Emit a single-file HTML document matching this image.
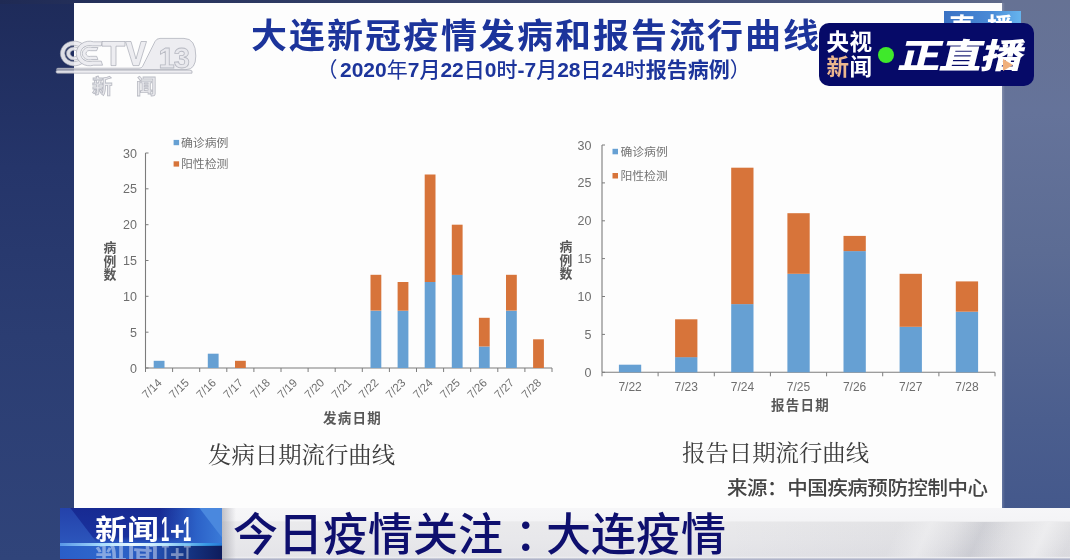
<!DOCTYPE html>
<html><head><meta charset="utf-8">
<style>
*{margin:0;padding:0;box-sizing:border-box}
html,body{width:1070px;height:560px;overflow:hidden}
#root{position:absolute;left:0;top:0;width:1070px;height:560px;overflow:hidden;will-change:transform}
body{position:relative;background:linear-gradient(180deg,#1e2b5a 0%,#25356a 30%,#2b3d72 60%,#30447a 100%);font-family:"Liberation Sans","Noto Sans CJK SC",sans-serif}
.abs{position:absolute;white-space:nowrap}
#topstrip{left:0;top:0;width:1070px;height:4px;background:linear-gradient(90deg,#1f2a54 0%,#28345e 15%,#3a466e 50%,#48547a 75%,#5a6586 90%,#66718f 100%)}
#rightbg{left:1002px;top:0;width:68px;height:560px;background:linear-gradient(180deg,#667294 0%,#65739a 20%,#5c6c94 45%,#4b5e8e 75%,#40558a 100%)}
#redge{left:1002px;top:3px;width:3px;height:505px;background:linear-gradient(90deg,rgba(255,255,255,0.18),rgba(255,255,255,0))}
#panel{left:74px;top:3px;width:928px;height:510px;background:#fdfdfd}
#title{left:251px;top:12.2px;font-size:36px;font-weight:700;color:#1c349b;letter-spacing:2px;line-height:48px;transform:scaleY(0.96);transform-origin:0 38.3px}
#sub{left:319px;top:56px;font-size:21px;font-weight:700;color:#1c349b;line-height:28px}
#sub i{font-style:normal;font-weight:400}
#sub i.m{font-weight:500}
.cap{font-family:"Liberation Serif","Noto Serif CJK SC",serif;font-size:23.4px;color:#3c3c3c;line-height:30px;transform:scaleY(0.96);transform-origin:0 0}
#cap1{left:208px;top:440.6px}
#cap2{left:682px;top:438.5px}
#src{left:727px;top:474.6px;font-size:20.5px;color:#444;font-weight:500;line-height:28px;letter-spacing:-0.45px;transform:scaleY(0.96);transform-origin:0 0}

#tab{left:944px;top:11px;width:77px;height:14px;background:linear-gradient(90deg,#3a72c4,#4a8ad6 60%,#66b4ee);overflow:hidden}
#tab span{position:absolute;left:5px;top:-0.5px;font-size:26px;font-weight:700;color:#fff;letter-spacing:12px;line-height:34px}
#badge{left:819px;top:22.5px;width:215px;height:63.5px;background:#060a68;border-radius:10px}
.bt{position:absolute;font-size:22.5px;font-weight:700;line-height:24px;color:#fff;white-space:nowrap;letter-spacing:0.5px}
#dot{position:absolute;left:59px;top:24px;width:16px;height:16px;border-radius:50%;background:#3fe92b}
#zzb{position:absolute;left:86px;top:13.5px;font-size:34px;font-weight:900;color:#fff;line-height:40px;transform:skewX(-14deg) scaleX(1.25);transform-origin:0 0;letter-spacing:-1px}
#tri{position:absolute;left:184px;top:36px;width:0;height:0;border-top:6px solid transparent;border-bottom:6px solid transparent;border-left:10px solid #f0b07c}
#banner{left:0;top:507.5px;width:1070px;height:52.5px}
#bgray{position:absolute;left:222px;top:0;width:848px;height:52.5px;background:linear-gradient(180deg,#f6f6f8 0px,#f4f4f6 12.5px,#eaeaec 14px,#e8e8eb 30px,#e4e4e8 48px,#ececef 49.5px,#b4b8cc 51px,#a8acc2 52.5px)}
#streak{position:absolute;left:700px;top:14px;width:370px;height:35px;background:linear-gradient(90deg,rgba(20,20,40,0) 0%,rgba(20,20,40,0.04) 60%,rgba(20,20,40,0.05) 100%)}
#streak2{position:absolute;left:820px;top:14px;width:250px;height:35px;background:linear-gradient(115deg,rgba(255,255,255,0) 0%,rgba(255,255,255,0) 30%,rgba(255,255,255,0.35) 42%,rgba(255,255,255,0) 52%,rgba(130,134,150,0.18) 62%,rgba(255,255,255,0) 72%,rgba(255,255,255,0.45) 86%,rgba(255,255,255,0) 97%)}
#logo11{position:absolute;left:60px;top:0;width:162px;height:52.5px;overflow:hidden;background:linear-gradient(180deg,#172a92 0%,#1a329e 55%,#2a5cc4 68%,#2456bc 85%,#1b3f9c 100%)}
#logo11 .tl{position:absolute;left:0;top:0;width:40px;height:36px;background:linear-gradient(180deg,#2442aa,#2c56bc);clip-path:polygon(0 0,10px 0,37.5px 36px,0 36px)}
#logo11 .tr{position:absolute;left:100px;top:0;width:62px;height:35px;background:linear-gradient(90deg,rgba(40,80,190,0) 0%,#2c62c8 60%,#3a7ad8 100%)}
#logo11 .tr2{position:absolute;left:139px;top:0;width:23px;height:35px;background:#4a88de;clip-path:polygon(0 0,23px 0,23px 30px)}
#logo11 .bl{position:absolute;left:0;top:37px;width:162px;height:15.5px;background:linear-gradient(90deg,#2a5ec8 0%,#2e68cc 30%,#2756bc 55%,#173a8c 75%,#0e1c5c 100%)}
#logo11 .glow{position:absolute;left:0;top:35px;width:162px;height:3.5px;background:linear-gradient(90deg,rgba(120,190,255,0.6) 0%,rgba(170,225,255,0.95) 25%,rgba(235,250,255,1) 45%,rgba(190,235,255,0.95) 65%,rgba(60,170,240,0.8) 90%,rgba(40,140,230,0.6) 100%);filter:blur(0.6px)}
#logo11 .t,#logo11 .r{position:absolute;left:0;top:0;width:162px;height:52.5px}
#logo11 .r{transform:scaleY(-1);transform-origin:0 34.8px;opacity:0.42;filter:blur(0.6px)}
#logo11 .t span,#logo11 .r span{position:absolute;color:#fff;font-weight:700;line-height:30px;white-space:nowrap;transform-origin:0 0}
#logo11 .c{font-size:28px;letter-spacing:0px;transform:scale(1.14,1.0)}
#logo11 .d{font-family:"Liberation Sans",sans-serif;font-size:35px;transform:scaleX(0.42)}
#logo11 .p{font-family:"Liberation Sans",sans-serif;font-size:26px;transform:scaleX(0.95)}
#bred{position:absolute;left:0;top:51px;width:162px;height:1.5px;background:#6a2040}
#bshadow{position:absolute;left:222px;top:0;width:14px;height:52.5px;background:linear-gradient(90deg,rgba(150,150,160,0.55),rgba(240,240,244,0))}
.btx{position:absolute;top:0.5px;font-size:45px;font-weight:500;color:#0e0f6e;line-height:56px;white-space:nowrap}
</style></head>
<body>
<div id="root">
<div id="topstrip" class="abs"></div>
<div id="rightbg" class="abs"></div>
<div id="panel" class="abs"></div><div id="redge" class="abs"></div>
<svg class="abs" style="left:0;top:0" width="220" height="110" viewBox="0 0 220 110">
<g fill="rgba(236,236,240,0.93)" stroke="rgba(160,162,174,0.7)" stroke-width="0.9">
<path d="M56.5,69.6 L186,69.6 Q195.8,69.6 195.8,56 Q195.8,38.4 184,38.4 L160,38.4 Q156.5,38.4 155,41.5 L142.5,66.5 Q141.5,68.2 139,68.2 L58,68.2 Q56.5,68.2 56.5,69.6 Z"/>
<path d="M57.5,70.2 L190,70.2 Q193,70.2 192,73.2 L57.5,73.2 Q56,73.2 56,71.7 Q56,70.2 57.5,70.2 Z"/>
<path d="M85.14,46.39 A13.6,12.4 0 1 0 85.14,60.61 L81.62,58.20 A9.3,8.2 0 1 1 81.62,48.80 Z"/>
<path d="M80.23,49.71 A7.6,6.6 0 1 0 80.23,57.29 L77.11,55.39 A3.8,3.3 0 1 1 77.11,51.61 Z"/>
<path d="M102.58,41.80 L93.58,41.80 A13.2,12.3 0 1 0 93.58,65.20 L102.58,65.20 L101.25,61.11 L92.25,61.11 A8.9,8.0 0 1 1 92.25,45.89 L101.25,45.89 Z"/>
<path d="M97.96,47.49 L91.96,47.49 A7.2,6.4 0 1 0 91.96,59.51 L97.96,59.51 L96.70,56.32 L90.70,56.32 A3.5,3.0 0 1 1 90.70,50.68 L96.70,50.68 Z"/>
<path d="M102,41.5 L125,41.5 L125,46.2 L116,46.2 L116,65.6 L111,65.6 L111,46.2 L102,46.2 Z"/>
<path d="M125.5,41.5 L131,41.5 L136,59 L141,41.5 L146.5,41.5 L139,65.6 L133,65.6 Z"/>
</g>
<g font-family="Liberation Sans, Noto Sans CJK SC, sans-serif" font-weight="700" fill="rgba(232,232,236,0.95)" stroke="rgba(160,162,174,0.7)" stroke-width="0.8">
<text x="158.5" y="67.5" font-size="29" letter-spacing="-1">13</text>
<text x="92" y="94" font-size="20.5" font-weight="700">新</text>
<text x="136" y="94" font-size="20.5" font-weight="700">闻</text>
</g>
</svg>
<div id="title" class="abs">大连新冠疫情发病和报告流行曲线</div>
<div id="sub" class="abs"><i style="position:relative;left:-2.5px">（</i>2020<i>年</i>7<i class="m">月</i>22<i class="m">日</i>0<i class="m">时</i>-7<i class="m">月</i>28<i class="m">日</i>24<i class="m">时</i>报告病例<i>）</i></div>
<div id="cap1" class="abs cap">发病日期流行曲线</div>
<div id="cap2" class="abs cap">报告日期流行曲线</div>
<div id="src" class="abs">来源：中国疾病预防控制中心</div>
<!-- CHARTS -->
<svg class="abs" style="left:0;top:0" width="1070" height="560" viewBox="0 0 1070 560" font-family="Liberation Sans, Noto Sans CJK SC, sans-serif">
<line x1="145.5" y1="153.0" x2="145.5" y2="368.0" stroke="#7c7c7c" stroke-width="1.1"/>
<line x1="145.5" y1="368.0" x2="552.0" y2="368.0" stroke="#7c7c7c" stroke-width="1.1"/>
<line x1="145.5" y1="368.0" x2="148.5" y2="368.0" stroke="#7c7c7c" stroke-width="1"/>
<text x="137.0" y="372.5" text-anchor="end" font-size="12.5" fill="#6e6e6e">0</text>
<line x1="145.5" y1="332.2" x2="148.5" y2="332.2" stroke="#7c7c7c" stroke-width="1"/>
<text x="137.0" y="336.7" text-anchor="end" font-size="12.5" fill="#6e6e6e">5</text>
<line x1="145.5" y1="296.3" x2="148.5" y2="296.3" stroke="#7c7c7c" stroke-width="1"/>
<text x="137.0" y="300.8" text-anchor="end" font-size="12.5" fill="#6e6e6e">10</text>
<line x1="145.5" y1="260.5" x2="148.5" y2="260.5" stroke="#7c7c7c" stroke-width="1"/>
<text x="137.0" y="265.0" text-anchor="end" font-size="12.5" fill="#6e6e6e">15</text>
<line x1="145.5" y1="224.7" x2="148.5" y2="224.7" stroke="#7c7c7c" stroke-width="1"/>
<text x="137.0" y="229.2" text-anchor="end" font-size="12.5" fill="#6e6e6e">20</text>
<line x1="145.5" y1="188.8" x2="148.5" y2="188.8" stroke="#7c7c7c" stroke-width="1"/>
<text x="137.0" y="193.3" text-anchor="end" font-size="12.5" fill="#6e6e6e">25</text>
<line x1="145.5" y1="153.0" x2="148.5" y2="153.0" stroke="#7c7c7c" stroke-width="1"/>
<text x="137.0" y="157.5" text-anchor="end" font-size="12.5" fill="#6e6e6e">30</text>
<line x1="145.5" y1="368.0" x2="145.5" y2="372.0" stroke="#7c7c7c" stroke-width="1"/>
<line x1="172.6" y1="368.0" x2="172.6" y2="372.0" stroke="#7c7c7c" stroke-width="1"/>
<line x1="199.7" y1="368.0" x2="199.7" y2="372.0" stroke="#7c7c7c" stroke-width="1"/>
<line x1="226.8" y1="368.0" x2="226.8" y2="372.0" stroke="#7c7c7c" stroke-width="1"/>
<line x1="253.9" y1="368.0" x2="253.9" y2="372.0" stroke="#7c7c7c" stroke-width="1"/>
<line x1="281.0" y1="368.0" x2="281.0" y2="372.0" stroke="#7c7c7c" stroke-width="1"/>
<line x1="308.1" y1="368.0" x2="308.1" y2="372.0" stroke="#7c7c7c" stroke-width="1"/>
<line x1="335.2" y1="368.0" x2="335.2" y2="372.0" stroke="#7c7c7c" stroke-width="1"/>
<line x1="362.3" y1="368.0" x2="362.3" y2="372.0" stroke="#7c7c7c" stroke-width="1"/>
<line x1="389.4" y1="368.0" x2="389.4" y2="372.0" stroke="#7c7c7c" stroke-width="1"/>
<line x1="416.5" y1="368.0" x2="416.5" y2="372.0" stroke="#7c7c7c" stroke-width="1"/>
<line x1="443.6" y1="368.0" x2="443.6" y2="372.0" stroke="#7c7c7c" stroke-width="1"/>
<line x1="470.7" y1="368.0" x2="470.7" y2="372.0" stroke="#7c7c7c" stroke-width="1"/>
<line x1="497.8" y1="368.0" x2="497.8" y2="372.0" stroke="#7c7c7c" stroke-width="1"/>
<line x1="524.9" y1="368.0" x2="524.9" y2="372.0" stroke="#7c7c7c" stroke-width="1"/>
<line x1="552.0" y1="368.0" x2="552.0" y2="372.0" stroke="#7c7c7c" stroke-width="1"/>
<rect x="153.7" y="360.8" width="10.8" height="7.2" fill="#66a0d3"/>
<text x="162.6" y="383.5" text-anchor="end" font-size="11.5" fill="#6e6e6e" transform="rotate(-45 162.6 383.5)">7/14</text>
<text x="189.7" y="383.5" text-anchor="end" font-size="11.5" fill="#6e6e6e" transform="rotate(-45 189.7 383.5)">7/15</text>
<rect x="207.8" y="353.7" width="10.8" height="14.3" fill="#66a0d3"/>
<text x="216.8" y="383.5" text-anchor="end" font-size="11.5" fill="#6e6e6e" transform="rotate(-45 216.8 383.5)">7/16</text>
<rect x="235.0" y="360.8" width="10.8" height="7.2" fill="#d7743a"/>
<text x="243.9" y="383.5" text-anchor="end" font-size="11.5" fill="#6e6e6e" transform="rotate(-45 243.9 383.5)">7/17</text>
<text x="270.9" y="383.5" text-anchor="end" font-size="11.5" fill="#6e6e6e" transform="rotate(-45 270.9 383.5)">7/18</text>
<text x="298.1" y="383.5" text-anchor="end" font-size="11.5" fill="#6e6e6e" transform="rotate(-45 298.1 383.5)">7/19</text>
<text x="325.1" y="383.5" text-anchor="end" font-size="11.5" fill="#6e6e6e" transform="rotate(-45 325.1 383.5)">7/20</text>
<text x="352.2" y="383.5" text-anchor="end" font-size="11.5" fill="#6e6e6e" transform="rotate(-45 352.2 383.5)">7/21</text>
<rect x="370.5" y="310.7" width="10.8" height="57.3" fill="#66a0d3"/>
<rect x="370.5" y="274.8" width="10.8" height="35.8" fill="#d7743a"/>
<text x="379.4" y="383.5" text-anchor="end" font-size="11.5" fill="#6e6e6e" transform="rotate(-45 379.4 383.5)">7/22</text>
<rect x="397.6" y="310.7" width="10.8" height="57.3" fill="#66a0d3"/>
<rect x="397.6" y="282.0" width="10.8" height="28.7" fill="#d7743a"/>
<text x="406.4" y="383.5" text-anchor="end" font-size="11.5" fill="#6e6e6e" transform="rotate(-45 406.4 383.5)">7/23</text>
<rect x="424.7" y="282.0" width="10.8" height="86.0" fill="#66a0d3"/>
<rect x="424.7" y="174.5" width="10.8" height="107.5" fill="#d7743a"/>
<text x="433.6" y="383.5" text-anchor="end" font-size="11.5" fill="#6e6e6e" transform="rotate(-45 433.6 383.5)">7/24</text>
<rect x="451.8" y="274.8" width="10.8" height="93.2" fill="#66a0d3"/>
<rect x="451.8" y="224.7" width="10.8" height="50.2" fill="#d7743a"/>
<text x="460.7" y="383.5" text-anchor="end" font-size="11.5" fill="#6e6e6e" transform="rotate(-45 460.7 383.5)">7/25</text>
<rect x="478.9" y="346.5" width="10.8" height="21.5" fill="#66a0d3"/>
<rect x="478.9" y="317.8" width="10.8" height="28.7" fill="#d7743a"/>
<text x="487.8" y="383.5" text-anchor="end" font-size="11.5" fill="#6e6e6e" transform="rotate(-45 487.8 383.5)">7/26</text>
<rect x="506.0" y="310.7" width="10.8" height="57.3" fill="#66a0d3"/>
<rect x="506.0" y="274.8" width="10.8" height="35.8" fill="#d7743a"/>
<text x="514.9" y="383.5" text-anchor="end" font-size="11.5" fill="#6e6e6e" transform="rotate(-45 514.9 383.5)">7/27</text>
<rect x="533.1" y="339.3" width="10.8" height="28.7" fill="#d7743a"/>
<text x="542.0" y="383.5" text-anchor="end" font-size="11.5" fill="#6e6e6e" transform="rotate(-45 542.0 383.5)">7/28</text>
<line x1="602.0" y1="145.0" x2="602.0" y2="372.3" stroke="#7c7c7c" stroke-width="1.1"/>
<line x1="602.0" y1="372.3" x2="995.0" y2="372.3" stroke="#7c7c7c" stroke-width="1.1"/>
<line x1="602.0" y1="372.3" x2="605.0" y2="372.3" stroke="#7c7c7c" stroke-width="1"/>
<text x="591.5" y="376.8" text-anchor="end" font-size="12.5" fill="#6e6e6e">0</text>
<line x1="602.0" y1="334.4" x2="605.0" y2="334.4" stroke="#7c7c7c" stroke-width="1"/>
<text x="591.5" y="338.9" text-anchor="end" font-size="12.5" fill="#6e6e6e">5</text>
<line x1="602.0" y1="296.5" x2="605.0" y2="296.5" stroke="#7c7c7c" stroke-width="1"/>
<text x="591.5" y="301.0" text-anchor="end" font-size="12.5" fill="#6e6e6e">10</text>
<line x1="602.0" y1="258.6" x2="605.0" y2="258.6" stroke="#7c7c7c" stroke-width="1"/>
<text x="591.5" y="263.1" text-anchor="end" font-size="12.5" fill="#6e6e6e">15</text>
<line x1="602.0" y1="220.8" x2="605.0" y2="220.8" stroke="#7c7c7c" stroke-width="1"/>
<text x="591.5" y="225.3" text-anchor="end" font-size="12.5" fill="#6e6e6e">20</text>
<line x1="602.0" y1="182.9" x2="605.0" y2="182.9" stroke="#7c7c7c" stroke-width="1"/>
<text x="591.5" y="187.4" text-anchor="end" font-size="12.5" fill="#6e6e6e">25</text>
<line x1="602.0" y1="145.0" x2="605.0" y2="145.0" stroke="#7c7c7c" stroke-width="1"/>
<text x="591.5" y="149.5" text-anchor="end" font-size="12.5" fill="#6e6e6e">30</text>
<line x1="602.0" y1="372.3" x2="602.0" y2="376.3" stroke="#7c7c7c" stroke-width="1"/>
<line x1="658.1" y1="372.3" x2="658.1" y2="376.3" stroke="#7c7c7c" stroke-width="1"/>
<line x1="714.3" y1="372.3" x2="714.3" y2="376.3" stroke="#7c7c7c" stroke-width="1"/>
<line x1="770.4" y1="372.3" x2="770.4" y2="376.3" stroke="#7c7c7c" stroke-width="1"/>
<line x1="826.6" y1="372.3" x2="826.6" y2="376.3" stroke="#7c7c7c" stroke-width="1"/>
<line x1="882.7" y1="372.3" x2="882.7" y2="376.3" stroke="#7c7c7c" stroke-width="1"/>
<line x1="938.9" y1="372.3" x2="938.9" y2="376.3" stroke="#7c7c7c" stroke-width="1"/>
<line x1="995.0" y1="372.3" x2="995.0" y2="376.3" stroke="#7c7c7c" stroke-width="1"/>
<rect x="618.9" y="364.7" width="22.3" height="7.6" fill="#66a0d3"/>
<text x="630.1" y="391.3" text-anchor="middle" font-size="12" fill="#6e6e6e">7/22</text>
<rect x="675.1" y="357.1" width="22.3" height="15.2" fill="#66a0d3"/>
<rect x="675.1" y="319.3" width="22.3" height="37.9" fill="#d7743a"/>
<text x="686.2" y="391.3" text-anchor="middle" font-size="12" fill="#6e6e6e">7/23</text>
<rect x="731.2" y="304.1" width="22.3" height="68.2" fill="#66a0d3"/>
<rect x="731.2" y="167.7" width="22.3" height="136.4" fill="#d7743a"/>
<text x="742.4" y="391.3" text-anchor="middle" font-size="12" fill="#6e6e6e">7/24</text>
<rect x="787.4" y="273.8" width="22.3" height="98.5" fill="#66a0d3"/>
<rect x="787.4" y="213.2" width="22.3" height="60.6" fill="#d7743a"/>
<text x="798.5" y="391.3" text-anchor="middle" font-size="12" fill="#6e6e6e">7/25</text>
<rect x="843.5" y="251.1" width="22.3" height="121.2" fill="#66a0d3"/>
<rect x="843.5" y="235.9" width="22.3" height="15.2" fill="#d7743a"/>
<text x="854.6" y="391.3" text-anchor="middle" font-size="12" fill="#6e6e6e">7/26</text>
<rect x="899.6" y="326.8" width="22.3" height="45.5" fill="#66a0d3"/>
<rect x="899.6" y="273.8" width="22.3" height="53.0" fill="#d7743a"/>
<text x="910.8" y="391.3" text-anchor="middle" font-size="12" fill="#6e6e6e">7/27</text>
<rect x="955.8" y="311.7" width="22.3" height="60.6" fill="#66a0d3"/>
<rect x="955.8" y="281.4" width="22.3" height="30.3" fill="#d7743a"/>
<text x="966.9" y="391.3" text-anchor="middle" font-size="12" fill="#6e6e6e">7/28</text>
<rect x="173.6" y="139.9" width="5.5" height="5.3" fill="#66a0d3"/>
<text x="180.9" y="146.9" font-size="11.9" fill="#737373">确诊病例</text>
<rect x="173.6" y="161.3" width="5.5" height="5.3" fill="#d7743a"/>
<text x="180.9" y="168.4" font-size="11.9" fill="#737373">阳性检测</text>
<rect x="612.5" y="148.8" width="5.5" height="5.5" fill="#66a0d3"/>
<text x="620.5" y="155.6" font-size="11.8" fill="#737373">确诊病例</text>
<rect x="612.5" y="173" width="5.5" height="5.5" fill="#d7743a"/>
<text x="620.5" y="179.9" font-size="11.8" fill="#737373">阳性检测</text>
<text x="110" y="252.0" text-anchor="middle" font-size="12.8" font-weight="700" fill="#585858">病</text>
<text x="110" y="265.6" text-anchor="middle" font-size="12.8" font-weight="700" fill="#585858">例</text>
<text x="110" y="279.2" text-anchor="middle" font-size="12.8" font-weight="700" fill="#585858">数</text>
<text x="566" y="251.0" text-anchor="middle" font-size="12.8" font-weight="700" fill="#585858">病</text>
<text x="566" y="264.6" text-anchor="middle" font-size="12.8" font-weight="700" fill="#585858">例</text>
<text x="566" y="278.2" text-anchor="middle" font-size="12.8" font-weight="700" fill="#585858">数</text>
<text x="352.5" y="422.5" text-anchor="middle" font-size="13.5" font-weight="700" letter-spacing="1.3" fill="#585858">发病日期</text>
<text x="800.5" y="410" text-anchor="middle" font-size="13.5" font-weight="700" letter-spacing="1.3" fill="#585858">报告日期</text>
</svg>
<!-- /CHARTS -->

<div id="tab" class="abs"><span>直播</span></div>
<div id="badge" class="abs">
<div class="bt" style="left:7.5px;top:8.6px">央视</div>
<div class="bt" style="left:7.5px;top:33.6px"><span style="color:#ecb68e">新</span>闻</div>
<div id="dot"></div>
<div id="zzb">正直播</div>
<div id="tri"></div>
</div>
<div id="banner" class="abs">
<div id="bgray"></div><div id="streak"></div><div id="streak2"></div>
<div id="logo11"><div class="tl"></div><div class="tr"></div><div class="tr2"></div><div class="bl"></div><div class="r"><span class="c" style="left:34.5px;top:8px">新闻</span><span class="d" style="left:100.5px;top:6.5px">1</span><span class="p" style="left:109.5px;top:8px">+</span><span class="d" style="left:122.5px;top:6.5px">1</span></div><div class="glow"></div><div class="t"><span class="c" style="left:34.5px;top:8px">新闻</span><span class="d" style="left:100.5px;top:6.5px">1</span><span class="p" style="left:109.5px;top:8px">+</span><span class="d" style="left:122.5px;top:6.5px">1</span></div><div id="bred"></div></div>
<div id="bshadow"></div>
<div class="btx" style="left:233px">今日疫情关注</div><div class="btx" style="left:514.5px">：</div><div class="btx" style="left:546px">大连疫情</div>
</div>
</div>
</body></html>
